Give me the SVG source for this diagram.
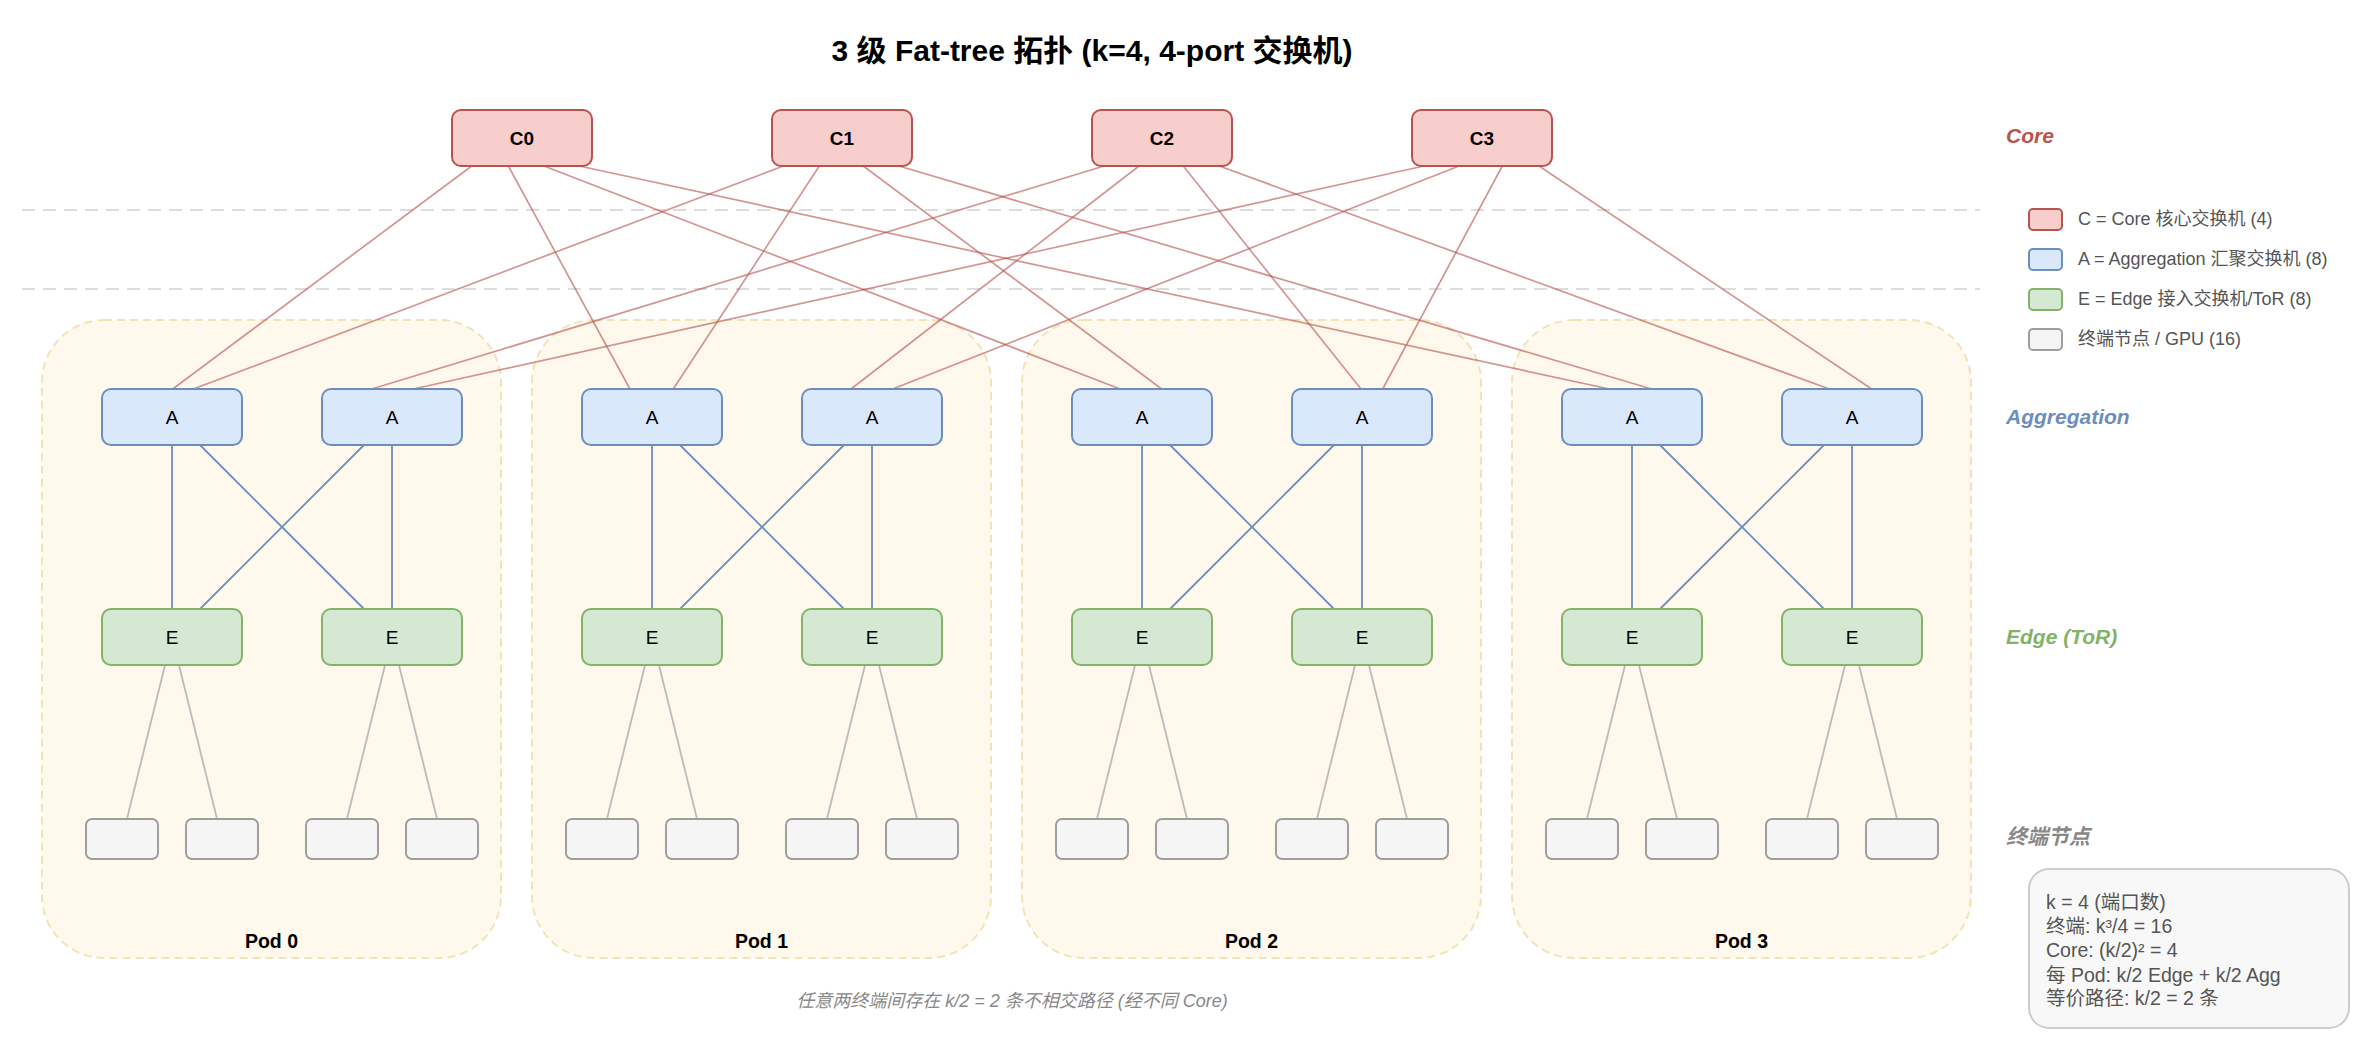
<svg xmlns="http://www.w3.org/2000/svg" width="2363" height="1043" viewBox="0 0 2363 1043">
<style>
text{font-family:"Liberation Sans","Noto Sans CJK SC",sans-serif}
.pod{fill:#fef9ec;stroke:#f2e3b6;stroke-width:2;stroke-dasharray:8 5}
.core rect{fill:#f8cecc;stroke:#b85450;stroke-width:2}
.agg rect{fill:#dae8fc;stroke:#6c8ebf;stroke-width:2}
.edge rect{fill:#d5e8d4;stroke:#82b366;stroke-width:2}
.term rect{fill:#f5f5f5;stroke:#9e9e9e;stroke-width:2}
.core text{font-size:19px;font-weight:bold;text-anchor:middle;fill:#000}
.agg text,.edge text{font-size:19px;text-anchor:middle;fill:#000}
.cl line{stroke:#b85450;stroke-opacity:0.62;stroke-width:1.7}
.al line{stroke:#6c8ebf;stroke-width:1.8}
.tl line{stroke:#bbbbbb;stroke-width:1.8}
.sep{stroke:#dddddd;stroke-width:2;stroke-dasharray:13 8}
.lay{font-size:21px;font-weight:bold;font-style:italic}
.leg rect{stroke-width:2}
.leg text{font-size:18px;fill:#555}
.podlbl{font-size:19.5px;font-weight:bold;text-anchor:middle;fill:#000}
.info text{font-size:19.5px;fill:#555}
</style>
<rect width="2363" height="1043" fill="#ffffff"/>
<text x="1092" y="61" font-size="30" font-weight="bold" text-anchor="middle" fill="#000">3 级 Fat-tree 拓扑 (k=4, 4-port 交换机)</text>

<g id="separators">
<line class="sep" x1="22" y1="210" x2="1980" y2="210"/>
<line class="sep" x1="22" y1="289" x2="1980" y2="289"/>
</g>

<g id="pods">
<g id="pod0"><rect class="pod" x="42" y="320" width="459" height="638" rx="62"/><text class="podlbl" x="271.5" y="948">Pod 0</text></g>
<g id="pod1"><rect class="pod" x="532" y="320" width="459" height="638" rx="62"/><text class="podlbl" x="761.5" y="948">Pod 1</text></g>
<g id="pod2"><rect class="pod" x="1022" y="320" width="459" height="638" rx="62"/><text class="podlbl" x="1251.5" y="948">Pod 2</text></g>
<g id="pod3"><rect class="pod" x="1512" y="320" width="459" height="638" rx="62"/><text class="podlbl" x="1741.5" y="948">Pod 3</text></g>
</g>

<g id="connectors">
<g class="cl">
<line x1="471.7" y1="166" x2="172.7" y2="389"/>
<line x1="508.3" y1="166" x2="630" y2="389"/>
<line x1="544" y1="166" x2="1120" y2="389"/>
<line x1="579.3" y1="166" x2="1609.3" y2="389"/>
<line x1="783.3" y1="166" x2="193.3" y2="389"/>
<line x1="819.3" y1="166" x2="673.3" y2="389"/>
<line x1="863.3" y1="166" x2="1161.7" y2="389"/>
<line x1="899" y1="166" x2="1651.7" y2="389"/>
<line x1="1104" y1="166" x2="371.7" y2="389"/>
<line x1="1139" y1="166" x2="851" y2="389"/>
<line x1="1183.3" y1="166" x2="1361" y2="389"/>
<line x1="1219.3" y1="166" x2="1829.3" y2="389"/>
<line x1="1424" y1="166" x2="413.3" y2="389"/>
<line x1="1459" y1="166" x2="892.7" y2="389"/>
<line x1="1502.3" y1="166" x2="1382.7" y2="389"/>
<line x1="1539" y1="166" x2="1871.7" y2="389"/>
</g>
<g class="al">
<line x1="172" y1="417" x2="172" y2="637"/><line x1="172" y1="417" x2="392" y2="637"/>
<line x1="392" y1="417" x2="172" y2="637"/><line x1="392" y1="417" x2="392" y2="637"/>
<line x1="652" y1="417" x2="652" y2="637"/><line x1="652" y1="417" x2="872" y2="637"/>
<line x1="872" y1="417" x2="652" y2="637"/><line x1="872" y1="417" x2="872" y2="637"/>
<line x1="1142" y1="417" x2="1142" y2="637"/><line x1="1142" y1="417" x2="1362" y2="637"/>
<line x1="1362" y1="417" x2="1142" y2="637"/><line x1="1362" y1="417" x2="1362" y2="637"/>
<line x1="1632" y1="417" x2="1632" y2="637"/><line x1="1632" y1="417" x2="1852" y2="637"/>
<line x1="1852" y1="417" x2="1632" y2="637"/><line x1="1852" y1="417" x2="1852" y2="637"/>
</g>
<g class="tl">
<line x1="172" y1="637" x2="122" y2="839"/><line x1="172" y1="637" x2="222" y2="839"/>
<line x1="392" y1="637" x2="342" y2="839"/><line x1="392" y1="637" x2="442" y2="839"/>
<line x1="652" y1="637" x2="602" y2="839"/><line x1="652" y1="637" x2="702" y2="839"/>
<line x1="872" y1="637" x2="822" y2="839"/><line x1="872" y1="637" x2="922" y2="839"/>
<line x1="1142" y1="637" x2="1092" y2="839"/><line x1="1142" y1="637" x2="1192" y2="839"/>
<line x1="1362" y1="637" x2="1312" y2="839"/><line x1="1362" y1="637" x2="1412" y2="839"/>
<line x1="1632" y1="637" x2="1582" y2="839"/><line x1="1632" y1="637" x2="1682" y2="839"/>
<line x1="1852" y1="637" x2="1802" y2="839"/><line x1="1852" y1="637" x2="1902" y2="839"/>
</g>
</g>

<g id="core-nodes">
<g id="C0" class="core"><rect x="452" y="110" width="140" height="56" rx="9"/><text x="522" y="145">C0</text></g>
<g id="C1" class="core"><rect x="772" y="110" width="140" height="56" rx="9"/><text x="842" y="145">C1</text></g>
<g id="C2" class="core"><rect x="1092" y="110" width="140" height="56" rx="9"/><text x="1162" y="145">C2</text></g>
<g id="C3" class="core"><rect x="1412" y="110" width="140" height="56" rx="9"/><text x="1482" y="145">C3</text></g>
</g>

<g id="agg-nodes">
<g id="A0" class="agg"><rect x="102" y="389" width="140" height="56" rx="9"/><text x="172" y="424">A</text></g>
<g id="A1" class="agg"><rect x="322" y="389" width="140" height="56" rx="9"/><text x="392" y="424">A</text></g>
<g id="A2" class="agg"><rect x="582" y="389" width="140" height="56" rx="9"/><text x="652" y="424">A</text></g>
<g id="A3" class="agg"><rect x="802" y="389" width="140" height="56" rx="9"/><text x="872" y="424">A</text></g>
<g id="A4" class="agg"><rect x="1072" y="389" width="140" height="56" rx="9"/><text x="1142" y="424">A</text></g>
<g id="A5" class="agg"><rect x="1292" y="389" width="140" height="56" rx="9"/><text x="1362" y="424">A</text></g>
<g id="A6" class="agg"><rect x="1562" y="389" width="140" height="56" rx="9"/><text x="1632" y="424">A</text></g>
<g id="A7" class="agg"><rect x="1782" y="389" width="140" height="56" rx="9"/><text x="1852" y="424">A</text></g>
</g>

<g id="edge-nodes">
<g id="E0" class="edge"><rect x="102" y="609" width="140" height="56" rx="9"/><text x="172" y="644">E</text></g>
<g id="E1" class="edge"><rect x="322" y="609" width="140" height="56" rx="9"/><text x="392" y="644">E</text></g>
<g id="E2" class="edge"><rect x="582" y="609" width="140" height="56" rx="9"/><text x="652" y="644">E</text></g>
<g id="E3" class="edge"><rect x="802" y="609" width="140" height="56" rx="9"/><text x="872" y="644">E</text></g>
<g id="E4" class="edge"><rect x="1072" y="609" width="140" height="56" rx="9"/><text x="1142" y="644">E</text></g>
<g id="E5" class="edge"><rect x="1292" y="609" width="140" height="56" rx="9"/><text x="1362" y="644">E</text></g>
<g id="E6" class="edge"><rect x="1562" y="609" width="140" height="56" rx="9"/><text x="1632" y="644">E</text></g>
<g id="E7" class="edge"><rect x="1782" y="609" width="140" height="56" rx="9"/><text x="1852" y="644">E</text></g>
</g>

<g id="terminal-nodes">
<g id="T0" class="term"><rect x="86" y="819" width="72" height="40" rx="6"/></g>
<g id="T1" class="term"><rect x="186" y="819" width="72" height="40" rx="6"/></g>
<g id="T2" class="term"><rect x="306" y="819" width="72" height="40" rx="6"/></g>
<g id="T3" class="term"><rect x="406" y="819" width="72" height="40" rx="6"/></g>
<g id="T4" class="term"><rect x="566" y="819" width="72" height="40" rx="6"/></g>
<g id="T5" class="term"><rect x="666" y="819" width="72" height="40" rx="6"/></g>
<g id="T6" class="term"><rect x="786" y="819" width="72" height="40" rx="6"/></g>
<g id="T7" class="term"><rect x="886" y="819" width="72" height="40" rx="6"/></g>
<g id="T8" class="term"><rect x="1056" y="819" width="72" height="40" rx="6"/></g>
<g id="T9" class="term"><rect x="1156" y="819" width="72" height="40" rx="6"/></g>
<g id="T10" class="term"><rect x="1276" y="819" width="72" height="40" rx="6"/></g>
<g id="T11" class="term"><rect x="1376" y="819" width="72" height="40" rx="6"/></g>
<g id="T12" class="term"><rect x="1546" y="819" width="72" height="40" rx="6"/></g>
<g id="T13" class="term"><rect x="1646" y="819" width="72" height="40" rx="6"/></g>
<g id="T14" class="term"><rect x="1766" y="819" width="72" height="40" rx="6"/></g>
<g id="T15" class="term"><rect x="1866" y="819" width="72" height="40" rx="6"/></g>
</g>

<g id="layer-labels">
<text class="lay" x="2006" y="143" fill="#b85450">Core</text>
<text class="lay" x="2006" y="424" fill="#6c8ebf">Aggregation</text>
<text class="lay" x="2006" y="644" fill="#82b366">Edge (ToR)</text>
<text class="lay" x="2006" y="844" fill="#888888">终端节点</text>
</g>

<g id="legend" class="leg">
<rect x="2029" y="209" width="33" height="21" rx="4" fill="#f8cecc" stroke="#b85450"/>
<text x="2078" y="225">C = Core 核心交换机 (4)</text>
<rect x="2029" y="249" width="33" height="21" rx="4" fill="#dae8fc" stroke="#6c8ebf"/>
<text x="2078" y="265">A = Aggregation 汇聚交换机 (8)</text>
<rect x="2029" y="289" width="33" height="21" rx="4" fill="#d5e8d4" stroke="#82b366"/>
<text x="2078" y="305">E = Edge 接入交换机/ToR (8)</text>
<rect x="2029" y="329" width="33" height="21" rx="4" fill="#f5f5f5" stroke="#9e9e9e"/>
<text x="2078" y="345">终端节点 / GPU (16)</text>
</g>

<g id="info" class="info">
<rect x="2029" y="869" width="320" height="159" rx="20" fill="#f8f8f8" stroke="#cccccc" stroke-width="2"/>
<text x="2046" y="909">k = 4 (端口数)</text>
<text x="2046" y="933">终端: k³/4 = 16</text>
<text x="2046" y="957">Core: (k/2)² = 4</text>
<text x="2046" y="982">每 Pod: k/2 Edge + k/2 Agg</text>
<text x="2046" y="1005">等价路径: k/2 = 2 条</text>
</g>

<text x="1012" y="1007" font-size="18" font-style="italic" fill="#888888" text-anchor="middle">任意两终端间存在 k/2 = 2 条不相交路径 (经不同 Core)</text>
</svg>
